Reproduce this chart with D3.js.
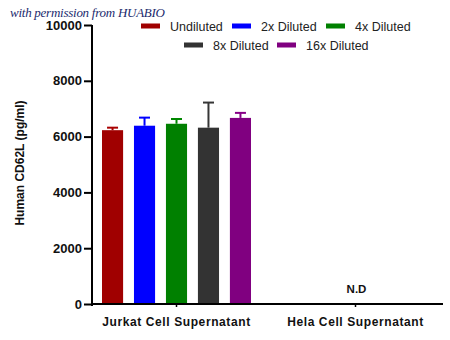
<!DOCTYPE html>
<html>
<head>
<meta charset="utf-8">
<script src="https://cdn.jsdelivr.net/npm/d3@7"></script>
<style>
  body { margin: 0; background: #fff; }
  svg { display: block; font-family: "Liberation Sans", Arial, sans-serif; }
</style>
</head>
<body>
<div id="vis"></div>
<script>
// chart data
const categories = ["Jurkat Cell Supernatant", "Hela Cell Supernatant"];
const seriesNames = ["Undiluted", "2x Diluted", "4x Diluted", "8x Diluted", "16x Diluted"];
const seriesColors = ["#a00000", "#0000ff", "#008000", "#333333", "#800080"];
const jurkatMeans = [6230, 6390, 6460, 6320, 6670];
const jurkatErrors = [90, 290, 170, 900, 180];
const helaLabel = "N.D";
const yTicks = [0, 2000, 4000, 6000, 8000, 10000];

const width = 450, height = 340;

const svg = d3.select("#vis").append("svg")
  .attr("width", width)
  .attr("height", height);

// watermark
svg.append("text")
  .attr("x", 10)
  .attr("y", 17)
  .attr("font-family", "'Liberation Serif', 'DejaVu Serif', serif")
  .attr("font-style", "italic")
  .attr("font-size", 13)
  .attr("fill", "#1c2b6e")
  .attr("textLength", 155)
  .text("with permission from HUABIO");

// scales
const y = d3.scaleLinear().domain([0, 10000]).range([304, 25]);
const x0 = d3.scaleBand().domain(categories).range([87, 445]);
const x1 = d3.scaleBand().domain(seriesNames).range([-74.5, 74.5]).paddingInner(0.34);

// y axis
const yAxis = svg.append("g")
  .attr("transform", "translate(92,0)")
  .call(d3.axisLeft(y).tickValues(yTicks).tickFormat(d3.format("d"))
    .tickSize(8).tickSizeOuter(0).tickPadding(2));
yAxis.select(".domain").attr("stroke-width", 2).attr("d", "M0,25V306");
yAxis.selectAll(".tick line").attr("stroke-width", 2);
yAxis.selectAll(".tick text")
  .attr("font-size", 13)
  .attr("font-weight", "bold")
  .attr("fill", "#111");

// x axis
const xAxis = svg.append("g")
  .attr("transform", "translate(0,304)")
  .call(d3.axisBottom(x0).tickSize(3).tickSizeOuter(0).tickPadding(10));
xAxis.select(".domain").attr("stroke-width", 2).attr("d", "M91,0H443");
xAxis.selectAll(".tick line").attr("stroke-width", 1.5);
xAxis.selectAll(".tick text")
  .attr("font-size", 12)
  .attr("font-weight", "bold")
  .attr("letter-spacing", 0.6)
  .attr("fill", "#111");

// bars for Jurkat
const jurkat = jurkatMeans.map((v, i) => ({ name: seriesNames[i], value: v, err: jurkatErrors[i], color: seriesColors[i] }));
const cx = x0(categories[0]) + x0.bandwidth() / 2;

svg.selectAll(".bar")
  .data(jurkat)
  .join("rect")
  .attr("class", "bar")
  .attr("x", d => cx + x1(d.name))
  .attr("width", x1.bandwidth())
  .attr("y", d => y(d.value))
  .attr("height", d => y(0) - y(d.value) - 1)
  .attr("fill", d => d.color);

// error bars
const eb = svg.selectAll(".err")
  .data(jurkat)
  .join("g")
  .attr("class", "err")
  .attr("stroke", d => d3.color(d.color).brighter(0.15))
  .attr("stroke-width", 2);
eb.append("line")
  .attr("x1", d => cx + x1(d.name) + x1.bandwidth() / 2)
  .attr("x2", d => cx + x1(d.name) + x1.bandwidth() / 2)
  .attr("y1", d => y(d.value))
  .attr("y2", d => y(d.value + d.err));
eb.append("line")
  .attr("x1", d => cx + x1(d.name) + x1.bandwidth() / 2 - 5.5)
  .attr("x2", d => cx + x1(d.name) + x1.bandwidth() / 2 + 5.5)
  .attr("y1", d => y(d.value + d.err))
  .attr("y2", d => y(d.value + d.err));

// Hela: not detected
svg.append("text")
  .attr("x", x0(categories[1]) + x0.bandwidth() / 2 + 1)
  .attr("y", 293)
  .attr("text-anchor", "middle")
  .attr("font-size", 11.5)
  .attr("font-weight", "bold")
  .attr("fill", "#111")
  .text(helaLabel);

// y axis title
svg.append("text")
  .attr("transform", "translate(24,163) rotate(-90)")
  .attr("text-anchor", "middle")
  .attr("font-size", 12)
  .attr("font-weight", "bold")
  .attr("fill", "#111")
  .text("Human CD62L (pg/ml)");

// legend
const legendPos = [[141, 26], [232, 26], [326, 26], [184, 45], [277, 45]];
const legend = svg.selectAll(".legend")
  .data(seriesNames)
  .join("g")
  .attr("class", "legend")
  .attr("transform", (d, i) => `translate(${legendPos[i][0]},${legendPos[i][1]})`);
legend.append("rect")
  .attr("x", 0)
  .attr("y", -2.5)
  .attr("width", 19)
  .attr("height", 5)
  .attr("fill", (d, i) => seriesColors[i]);
legend.append("text")
  .attr("x", 29)
  .attr("y", 4.5)
  .attr("font-size", 12.5)
  .attr("fill", "#222")
  .text(d => d);
</script>
</body>
</html>
